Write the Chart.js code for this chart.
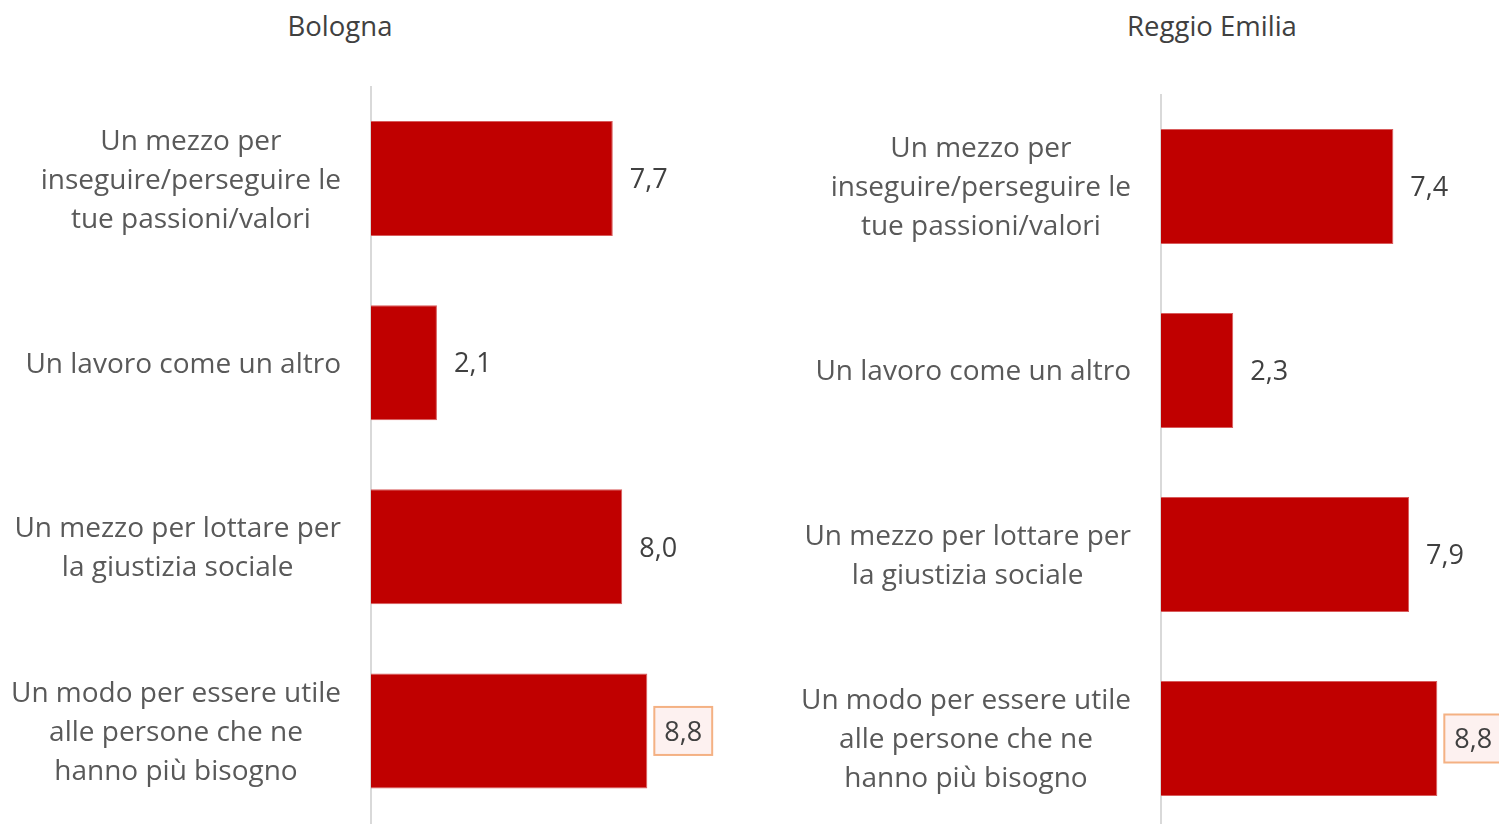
<!DOCTYPE html>
<html>
<head>
<meta charset="utf-8">
<script src="https://cdn.jsdelivr.net/npm/chart.js@4"></script>
<style>
  body { margin: 0; background: #fff; overflow: hidden; width: 1499px; height: 824px; position: relative; }
  .title { position: absolute; top: 7px; width: 400px; text-align: center; font: 27.5px 'Open Sans', sans-serif; color: #404040; }
  .box { position: absolute; top: 0; }
</style>
</head>
<body>
<div class="title" style="left:140px">Bologna</div>
<div class="title" style="left:1012px">Reggio Emilia</div>
<div class="box" style="left:0"><canvas id="bologna" width="750" height="824"></canvas></div>
<div class="box" style="left:750px"><canvas id="reggio" width="749" height="840"></canvas></div>
<script>
// Chart data
const categories = [
  ['Un mezzo per', 'inseguire/perseguire le', 'tue passioni/valori'],
  ['Un lavoro come un altro'],
  ['Un mezzo per lottare per', 'la giustizia sociale'],
  ['Un modo per essere utile', 'alle persone che ne', 'hanno più bisogno']
];
const bolognaValues = [7.7, 2.1, 8.0, 8.8];
const reggioValues = [7.4, 2.3, 7.9, 8.8];
const highlightIndex = 3;

const CAT_FONT = "28px 'Open Sans', sans-serif";
const VAL_FONT = "27px 'Open Sans', sans-serif";

// Draws category labels (lines centered per block, block right aligned) and value labels
const labelPlugin = {
  id: 'labels',
  afterDraw(chart) {
    const ctx = chart.ctx;
    const yScale = chart.scales.y;
    const xScale = chart.scales.x;
    const left = chart.chartArea.left;
    ctx.save();
    ctx.textBaseline = 'middle';

    // category labels
    ctx.font = CAT_FONT;
    ctx.fillStyle = '#595959';
    ctx.textAlign = 'center';
    categories.forEach((lines, i) => {
      const y = yScale.getPixelForValue(i) + 2;
      const maxW = Math.max(...lines.map(l => ctx.measureText(l).width));
      const cx = left - 30 - maxW / 2;
      const lh = 39;
      lines.forEach((line, j) => {
        ctx.fillText(line, cx, y + (j - (lines.length - 1) / 2) * lh);
      });
    });

    // value labels
    ctx.font = VAL_FONT;
    ctx.textAlign = 'left';
    const data = chart.data.datasets[0].data;
    data.forEach((v, i) => {
      const y = yScale.getPixelForValue(i);
      const x = xScale.getPixelForValue(v) + 17;
      const txt = v.toFixed(1).replace('.', ',');
      if (i === highlightIndex) {
        const w = ctx.measureText(txt).width;
        ctx.fillStyle = '#fdf1f0';
        ctx.strokeStyle = '#f4b183';
        ctx.lineWidth = 2;
        ctx.fillRect(x - 10, y - 24, w + 20, 48);
        ctx.strokeRect(x - 10, y - 24, w + 20, 48);
      }
      ctx.fillStyle = '#404040';
      ctx.fillText(txt, x, y + 2);
    });
    ctx.restore();
  }
};

function makeChart(id, values, axisLeft, padding) {
  return new Chart(document.getElementById(id), {
    type: 'bar',
    data: {
      labels: categories,
      datasets: [{
        data: values,
        backgroundColor: '#c00000',
        borderColor: '#d85c5c',
        borderWidth: 1,
        barPercentage: 0.625,
        categoryPercentage: 1
      }]
    },
    options: {
      indexAxis: 'y',
      responsive: false,
      animation: false,
      layout: { padding },
      plugins: { legend: { display: false }, tooltip: { enabled: false }, title: { display: false } },
      scales: {
        x: { display: false, min: 0, max: 10 },
        y: {
          grid: { display: false, drawTicks: false },
          border: { color: '#d9d9d9', width: 2 },
          ticks: { display: false },
          afterFit: s => { s.width = axisLeft; }
        }
      }
    },
    plugins: [labelPlugin]
  });
}

makeChart('bologna', bolognaValues, 371, { top: 86.5, right: 65, bottom: 1, left: 0 });
makeChart('reggio', reggioValues, 411, { top: 94.5, right: 24, bottom: 9.5, left: 0 });
</script>
</body>
</html>
